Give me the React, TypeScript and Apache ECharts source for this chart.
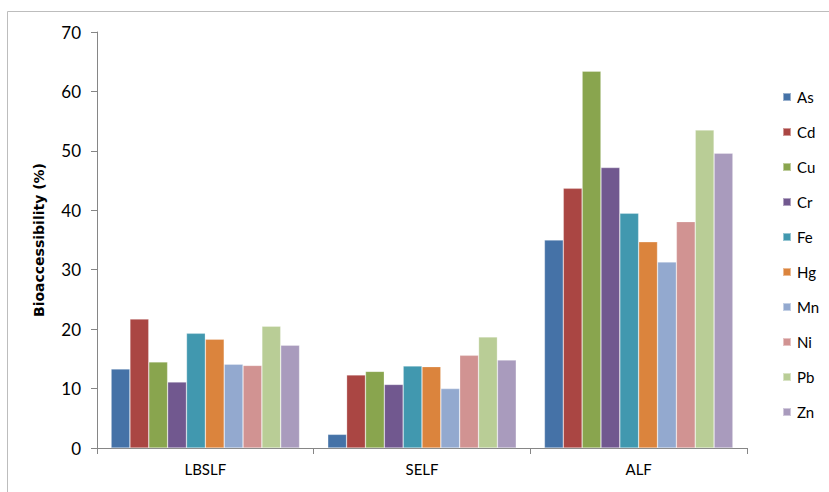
import React, { useEffect, useRef } from "react";
import * as echarts from "echarts";

const categories = ["LBSLF", "SELF", "ALF"];
const metals = ["As", "Cd", "Cu", "Cr", "Fe", "Hg", "Mn", "Ni", "Pb", "Zn"];
const colors = ["#4572A7", "#AA4643", "#89A54E", "#71588F", "#4198AF", "#DB843D", "#93A9CF", "#D19392", "#B9CD96", "#A99BBD"];
const As = [13.3, 2.3, 35.0];
const Cd = [21.7, 12.3, 43.7];
const Cu = [14.5, 12.9, 63.4];
const Cr = [11.1, 10.7, 47.2];
const Fe = [19.3, 13.8, 39.5];
const Hg = [18.3, 13.7, 34.7];
const Mn = [14.1, 10.0, 31.3];
const Ni = [13.9, 15.6, 38.1];
const Pb = [20.5, 18.7, 53.5];
const Zn = [17.3, 14.8, 49.6];
const seriesValues = [As, Cd, Cu, Cr, Fe, Hg, Mn, Ni, Pb, Zn];
const yTicks = { min: 0, max: 70, interval: 10 };

export default function App() {
  const ref = useRef<HTMLDivElement>(null);
  useEffect(() => {
    const chart = echarts.init(ref.current!, null, { renderer: "svg" });
    const font = "Lato, 'Open Sans', sans-serif";
    chart.setOption({
      animation: false,
      backgroundColor: "#ffffff",
      textStyle: { fontFamily: font },
      graphic: [
        {
          type: "rect",
          shape: { x: 7.5, y: 11.5, width: 900, height: 600 },
          style: { fill: "none", stroke: "#bdbdbd", lineWidth: 1 },
          silent: true,
        },
      ],
      grid: { left: 97, right: 82, top: 32, bottom: 44 },
      legend: {
        orient: "vertical",
        left: 777,
        top: 84,
        itemWidth: 8,
        itemHeight: 8,
        itemGap: 19,
        icon: "rect",
        data: metals,
        textStyle: { fontSize: 15, color: "#000", fontFamily: font, lineHeight: 16, padding: [0, 0, 0, 1] },
      },
      xAxis: {
        type: "category",
        data: categories,
        axisLine: { lineStyle: { color: "#868686", width: 1 } },
        axisTick: { show: true, length: 6, lineStyle: { color: "#868686" } },
        axisLabel: { fontSize: 15, color: "#000", margin: 13, fontFamily: font },
      },
      yAxis: {
        type: "value",
        min: yTicks.min,
        max: yTicks.max,
        interval: yTicks.interval,
        name: "Bioaccessibility (%)",
        nameLocation: "middle",
        nameRotate: 90,
        nameGap: 51,
        nameTextStyle: { fontSize: 14, fontWeight: "bold", color: "#000", fontFamily: "'DejaVu Sans', sans-serif" },
        axisLine: { show: true, lineStyle: { color: "#868686", width: 1 } },
        axisTick: { show: true, length: 6, lineStyle: { color: "#868686" } },
        splitLine: { show: false },
        axisLabel: { fontSize: 17, color: "#000", margin: 16, fontFamily: font },
      },
      series: metals.map((m, i) => ({
        name: m,
        type: "bar",
        data: seriesValues[i],
        barGap: "0%",
        barCategoryGap: "13%",
        itemStyle: { color: colors[i], borderColor: "rgba(255,255,255,0.45)", borderWidth: 0.6 },
      })),
    });
    return () => chart.dispose();
  }, []);
  return <div ref={ref} style={{ position: "absolute", left: 0, top: 0, width: 829, height: 492 }} />;
}
